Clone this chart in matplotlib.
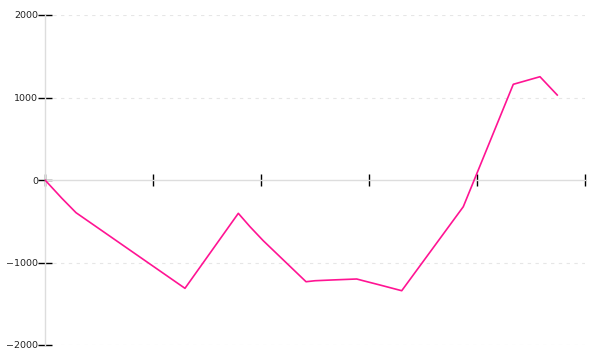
import matplotlib
matplotlib.use("Agg")
import matplotlib.pyplot as plt

# data (x in axis units 0..5, y values)
x_vals = [0.0, 0.155, 0.287, 1.296, 1.79, 1.898, 2.021, 2.417, 2.5, 2.655, 2.808,
          2.886, 2.947, 3.102, 3.303, 3.873, 4.336, 4.583, 4.743]
y_vals = [0, -220, -396, -1313, -404, -566, -736, -1233, -1221, -1212, -1204,
          -1200, -1221, -1273, -1342, -324, 1160, 1252, 1030]
y_ticks = [-2000, -1000, 0, 1000, 2000]
x_ticks = [0, 1, 2, 3, 4, 5]

fig = plt.figure(figsize=(6, 3.6), dpi=100)
ax = fig.add_axes([45/600, 15/360, 540/600, 330/360])
ax.set_xlim(0, 5)
ax.set_ylim(-2000, 2000)

for yv in [-2000, -1000, 1000, 2000]:
    ax.axhline(yv, color="#e6e6e6", lw=0.8, ls=(0, (3, 4)), zorder=0)

ax.plot(x_vals, y_vals, color="#ff1493", lw=1.2, zorder=3)

for s in ["top", "right"]:
    ax.spines[s].set_visible(False)
ax.spines["left"].set_color("#dddddd")
ax.spines["left"].set_linewidth(1.0)
ax.spines["bottom"].set_position(("data", 0))
ax.spines["bottom"].set_color("#dddddd")
ax.spines["bottom"].set_linewidth(1.0)

ax.set_yticks(y_ticks)
ax.set_yticklabels([str(v).replace("-", "\u2212") for v in y_ticks])
ax.set_xticks(x_ticks)
ax.set_xticklabels([])
ax.tick_params(axis="y", direction="inout", length=10, width=1, color="black",
               labelsize=6.8, labelcolor="#222222", pad=0)
ax.tick_params(axis="x", direction="inout", length=9, width=1, color="black")
for t in ax.yaxis.get_major_ticks() + ax.xaxis.get_major_ticks():
    t.tick1line.set_clip_on(False)

fig.savefig("out.png", dpi=100, facecolor="white")
